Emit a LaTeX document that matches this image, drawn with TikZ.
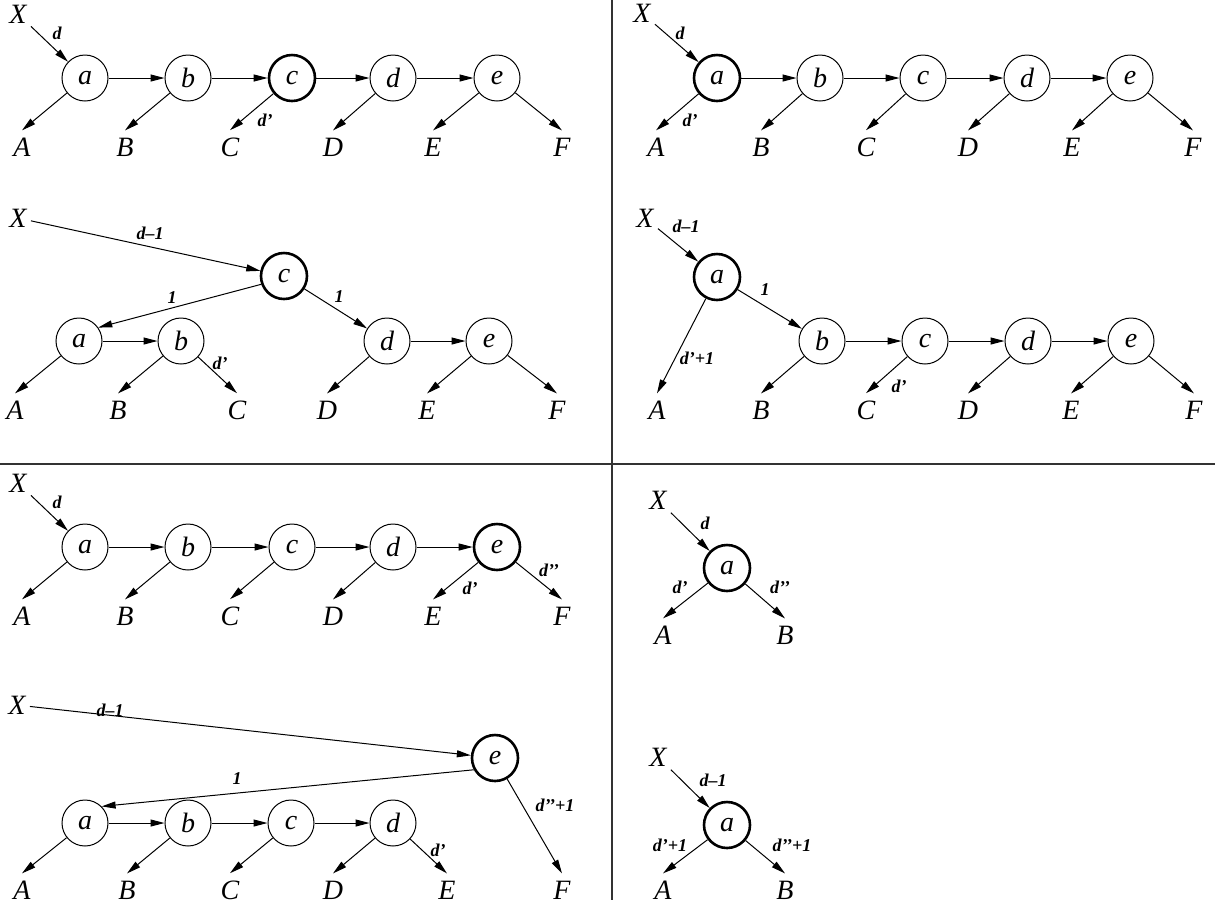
\documentclass[tikz,border=0pt]{standalone}
\usepackage{fontspec}
\setmainfont{Liberation Serif}
\usetikzlibrary{arrows.meta}

\begin{document}
\begin{tikzpicture}[x=0.5pt,y=-0.5pt]
    \tikzset{
    vertex/.style={
        draw,
        circle,
        line width=0.5pt,
        minimum size=23pt,
        inner sep=0pt,
        font=\fontsize{14}{16}\selectfont\itshape
    },
    pivot/.style={
        vertex,
        line width=1.3pt
    },
    leaf/.style={
        inner sep=3.5pt,
        font=\fontsize{14}{16}\selectfont\itshape
    },
    source/.style={
        inner sep=2pt,
        font=\fontsize{14}{16}\selectfont\itshape
    },
    weight/.style={
        inner sep=0pt,
        font=\fontsize{9}{10}\selectfont\bfseries\itshape
    },
    link/.style={
        line width=0.5pt,
        -{Triangle[length=7pt,width=3.5pt]}
    },
    divider/.style={
        line width=0.6pt,
        black!80
    }
}
        \useasboundingbox (0,0) rectangle (1215,907);

        \draw[divider] (0,464) -- (1215,464);
        \draw[divider] (612,0) -- (612,900);

        % top left, before
        \node[source] (X1) at (18,14) {X};
        \node[vertex] (a1) at (85,78) {a};
        \node[vertex] (b1) at (188,78) {b};
        \node[pivot] (c1) at (292,78) {c};
        \node[vertex] (d1) at (393,78) {d};
        \node[vertex] (e1) at (497,78) {e};
        \node[leaf] (A1) at (22,147) {A};
        \node[leaf] (B1) at (125,147) {B};
        \node[leaf] (C1) at (230,147) {C};
        \node[leaf] (D1) at (333,147) {D};
        \node[leaf] (E1) at (433,147) {E};
        \node[leaf] (F1) at (562,147) {F};

        \draw[link] (X1) -- (a1);
        \draw[link] (a1) -- (b1);
        \draw[link] (b1) -- (c1);
        \draw[link] (c1) -- (d1);
        \draw[link] (d1) -- (e1);
        \draw[link] (a1) -- (A1.north);
        \draw[link] (b1) -- (B1.north);
        \draw[link] (c1) -- (C1.north);
        \draw[link] (d1) -- (D1.north);
        \draw[link] (e1) -- (E1.north);
        \draw[link] (e1) -- (F1.north);
        \node[weight] (w1x) at (57,33) {d};
        \node[weight] (w1c) at (265,120) {d'};

        % top left, after
        \node[source] (X2) at (18,218) {X};
        \node[pivot] (c2) at (284,276) {c};
        \node[vertex] (a2) at (79,341) {a};
        \node[vertex] (b2) at (181,341) {b};
        \node[vertex] (d2) at (387,341) {d};
        \node[vertex] (e2) at (489,341) {e};
        \node[leaf] (A2) at (15,410) {A};
        \node[leaf] (B2) at (118,410) {B};
        \node[leaf] (C2) at (237,410) {C};
        \node[leaf] (D2) at (327,410) {D};
        \node[leaf] (E2) at (427,410) {E};
        \node[leaf] (F2) at (557,410) {F};

        \draw[link] (X2) -- (c2);
        \draw[link] (c2.200) -- (a2.35);
        \draw[link] (c2) -- (d2);
        \draw[link] (a2) -- (b2);
        \draw[link] (d2) -- (e2);
        \draw[link] (a2) -- (A2.north);
        \draw[link] (b2) -- (B2.north);
        \draw[link] (b2) -- (C2.north);
        \draw[link] (d2) -- (D2.north);
        \draw[link] (e2) -- (E2.north);
        \draw[link] (e2) -- (F2.north);
        \node[weight] (w2x) at (150,233) {d--1};
        \node[weight] (w2a) at (172,298) {1};
        \node[weight] (w2d) at (339,297) {1};
        \node[weight] (w2b) at (220,363) {d'};

        % top right, before
        \node[source] (X3) at (642,13) {X};
        \node[pivot] (a3) at (717,78) {a};
        \node[vertex] (b3) at (820,78) {b};
        \node[vertex] (c3) at (923,78) {c};
        \node[vertex] (d3) at (1027,78) {d};
        \node[vertex] (e3) at (1130,78) {e};
        \node[leaf] (A3) at (656,147) {A};
        \node[leaf] (B3) at (761,147) {B};
        \node[leaf] (C3) at (866,147) {C};
        \node[leaf] (D3) at (968,147) {D};
        \node[leaf] (E3) at (1072,147) {E};
        \node[leaf] (F3) at (1193,147) {F};

        \draw[link] (X3) -- (a3);
        \draw[link] (a3) -- (b3);
        \draw[link] (b3) -- (c3);
        \draw[link] (c3) -- (d3);
        \draw[link] (d3) -- (e3);
        \draw[link] (a3) -- (A3.north);
        \draw[link] (b3) -- (B3.north);
        \draw[link] (c3) -- (C3.north);
        \draw[link] (d3) -- (D3.north);
        \draw[link] (e3) -- (E3.north);
        \draw[link] (e3) -- (F3.north);
        \node[weight] (w3x) at (680,33) {d};
        \node[weight] (w3a) at (690,120) {d'};

        % top right, after
        \node[source] (X4) at (645,218) {X};
        \node[pivot] (a4) at (717,277) {a};
        \node[vertex] (b4) at (822,341) {b};
        \node[vertex] (c4) at (925,341) {c};
        \node[vertex] (d4) at (1028,341) {d};
        \node[vertex] (e4) at (1131,341) {e};
        \node[leaf] (A4) at (657,410) {A};
        \node[leaf] (B4) at (761,410) {B};
        \node[leaf] (C4) at (866,410) {C};
        \node[leaf] (D4) at (968,410) {D};
        \node[leaf] (E4) at (1071,410) {E};
        \node[leaf] (F4) at (1194,410) {F};

        \draw[link] (X4) -- (a4);
        \draw[link] (a4) -- (b4);
        \draw[link] (a4) -- (A4.north);
        \draw[link] (b4) -- (c4);
        \draw[link] (c4) -- (d4);
        \draw[link] (d4) -- (e4);
        \draw[link] (b4) -- (B4.north);
        \draw[link] (c4) -- (C4.north);
        \draw[link] (d4) -- (D4.north);
        \draw[link] (e4) -- (E4.north);
        \draw[link] (e4) -- (F4.north);
        \node[weight] (w4x) at (686,226) {d--1};
        \node[weight] (w4b) at (765,290) {1};
        \node[weight] (w4a) at (697,358) {d'+1};
        \node[weight] (w4c) at (899,386) {d'};

        % bottom left, before
        \node[source] (X5) at (18,483) {X};
        \node[vertex] (a5) at (85,547) {a};
        \node[vertex] (b5) at (188,547) {b};
        \node[vertex] (c5) at (292,547) {c};
        \node[vertex] (d5) at (393,547) {d};
        \node[pivot] (e5) at (497,547) {e};
        \node[leaf] (A5) at (22,616) {A};
        \node[leaf] (B5) at (125,616) {B};
        \node[leaf] (C5) at (230,616) {C};
        \node[leaf] (D5) at (333,616) {D};
        \node[leaf] (E5) at (433,616) {E};
        \node[leaf] (F5) at (562,616) {F};

        \draw[link] (X5) -- (a5);
        \draw[link] (a5) -- (b5);
        \draw[link] (b5) -- (c5);
        \draw[link] (c5) -- (d5);
        \draw[link] (d5) -- (e5);
        \draw[link] (a5) -- (A5.north);
        \draw[link] (b5) -- (B5.north);
        \draw[link] (c5) -- (C5.north);
        \draw[link] (d5) -- (D5.north);
        \draw[link] (e5) -- (E5.north);
        \draw[link] (e5) -- (F5.north);
        \node[weight] (w5x) at (57,502) {d};
        \node[weight] (w5l) at (470,588) {d'};
        \node[weight] (w5r) at (549,570) {d'{}'};

        % bottom left, after
        \node[source] (X6) at (17,705) {X};
        \node[pivot] (e6) at (495,758) {e};
        \node[vertex] (a6) at (85,823) {a};
        \node[vertex] (b6) at (188,823) {b};
        \node[vertex] (c6) at (291,823) {c};
        \node[vertex] (d6) at (393,823) {d};
        \node[leaf] (A6) at (22,890) {A};
        \node[leaf] (B6) at (127,890) {B};
        \node[leaf] (C6) at (230,890) {C};
        \node[leaf] (D6) at (333,890) {D};
        \node[leaf] (E6) at (447,890) {E};
        \node[leaf] (F6) at (562,890) {F};

        \draw[link] (X6) -- (e6);
        \draw[link] (e6.209) -- (a6.45);
        \draw[link] (e6) -- (F6.north);
        \draw[link] (a6) -- (b6);
        \draw[link] (b6) -- (c6);
        \draw[link] (c6) -- (d6);
        \draw[link] (a6) -- (A6.north);
        \draw[link] (b6) -- (B6.north);
        \draw[link] (c6) -- (C6.north);
        \draw[link] (d6) -- (D6.north);
        \draw[link] (d6) -- (E6.north);
        \node[weight] (w6x) at (110,710) {d--1};
        \node[weight] (w6a) at (237,779) {1};
        \node[weight] (w6f) at (555,805) {d'{}'+1};
        \node[weight] (w6e) at (438,850) {d'};

        % bottom right, before
        \node[source] (X7) at (658,500) {X};
        \node[pivot] (a7) at (727,568) {a};
        \node[leaf] (A7) at (663,635) {A};
        \node[leaf] (B7) at (785,635) {B};

        \draw[link] (X7) -- (a7);
        \draw[link] (a7) -- (A7.north);
        \draw[link] (a7) -- (B7.north);
        \node[weight] (w7x) at (705,523) {d};
        \node[weight] (w7a) at (680,587) {d'};
        \node[weight] (w7b) at (780,587) {d'{}'};

        % bottom right, after
        \node[source] (X8) at (658,757) {X};
        \node[pivot] (a8) at (727,825) {a};
        \node[leaf] (A8) at (663,890) {A};
        \node[leaf] (B8) at (785,890) {B};

        \draw[link] (X8) -- (a8);
        \draw[link] (a8) -- (A8.north);
        \draw[link] (a8) -- (B8.north);
        \node[weight] (w8x) at (713,780) {d--1};
        \node[weight] (w8a) at (670,845) {d'+1};
        \node[weight] (w8b) at (792,845) {d'{}'+1};
    \end{tikzpicture}
\end{document}
